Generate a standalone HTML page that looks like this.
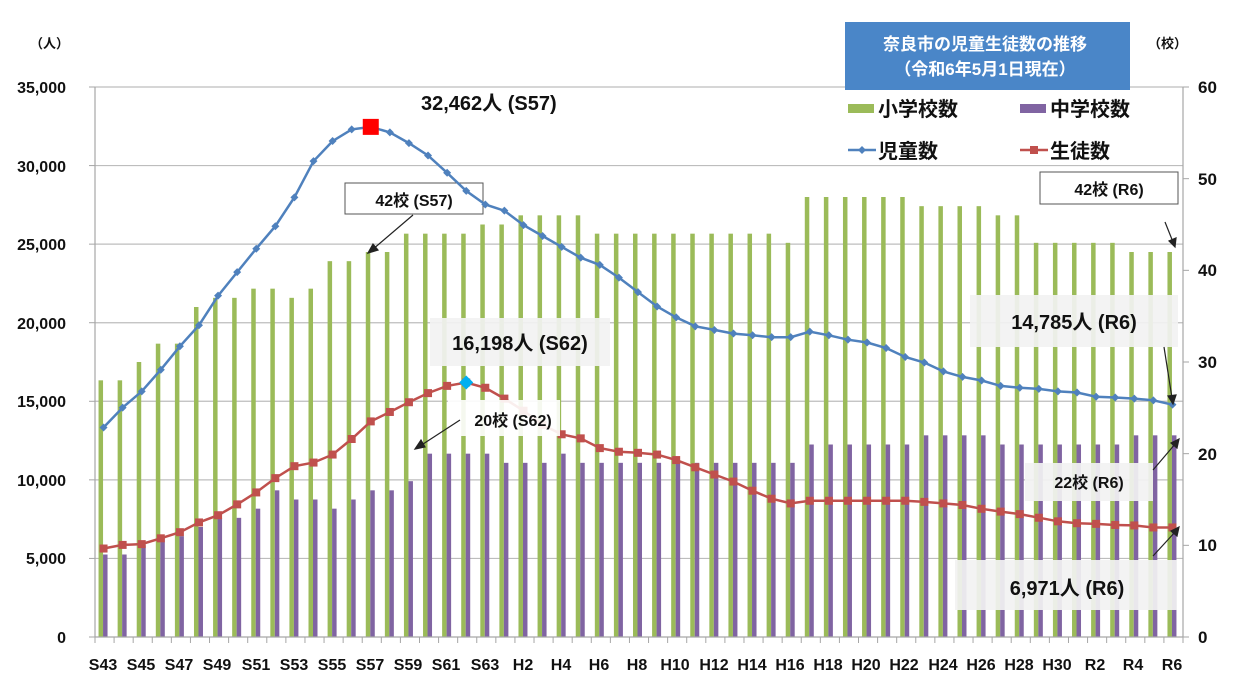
<!DOCTYPE html>
<html><head><meta charset="utf-8"><style>
html,body{margin:0;padding:0;background:#fff;}
svg{display:block;font-family:"Liberation Sans","Noto Sans CJK JP",sans-serif;font-weight:bold;}
</style></head><body>
<svg id="c" width="1238" height="691" viewBox="0 0 1238 691" xmlns="http://www.w3.org/2000/svg">
<rect width="1238" height="691" fill="#fff"/>
<g id="grid" stroke="#bdbdbd" stroke-width="1.2"></g>
<g id="bars"></g>
<rect x="345" y="183" width="138" height="31" fill="#fff" stroke="#555" stroke-width="1"/>
<text x="414" y="206" text-anchor="middle" font-size="16" fill="#111">42校 (S57)</text>
<g id="lines"></g>
<line x1="95" y1="87" x2="95" y2="637" stroke="#a6a6a6" stroke-width="1.2"/>
<line x1="1183" y1="87" x2="1183" y2="637" stroke="#a6a6a6" stroke-width="1.2"/>
<line x1="95" y1="637" x2="1183" y2="637" stroke="#a6a6a6" stroke-width="1.2"/>
<g id="ticks" stroke="#a6a6a6" stroke-width="1"></g>

<!-- annotation boxes -->
<rect x="430" y="318" width="180" height="48" fill="#f2f2f2" opacity="0.92"/>
<rect x="448" y="400" width="112" height="36" fill="#fff" opacity="0.9"/>
<rect x="970" y="295" width="208" height="52" fill="#f2f2f2" opacity="0.92"/>
<rect x="1025" y="463" width="128" height="38" fill="#f2f2f2" opacity="0.92"/>
<rect x="955" y="560" width="222" height="50" fill="#f2f2f2" opacity="0.92"/>
<rect x="1040" y="172" width="138" height="32" fill="#fff" stroke="#555" stroke-width="1"/>

<g id="marks"></g>

<!-- arrows -->
<g stroke="#222" stroke-width="1.2" fill="#222">
<line x1="413" y1="215" x2="372" y2="250"/><polygon points="368,253 378,250 373,244"/>
<line x1="460" y1="420" x2="420" y2="446"/><polygon points="415,449 425,447 421,440"/>
<line x1="1165" y1="222" x2="1173" y2="242"/><polygon points="1175,247 1176,238 1169,241"/>
<line x1="1164" y1="347" x2="1172" y2="398"/><polygon points="1173,404 1176,395 1168,396"/>
<line x1="1153" y1="470" x2="1176" y2="443"/><polygon points="1179,439 1171,443 1177,448"/>
<line x1="1153" y1="556" x2="1176" y2="531"/><polygon points="1179,527 1171,531 1177,536"/>
</g>

<!-- annotation text -->
<g fill="#111" font-size="19">
<text x="421" y="110" font-size="20">32,462人 (S57)</text>
<text x="520" y="350" text-anchor="middle" font-size="20">16,198人 (S62)</text>
<text x="513" y="426" text-anchor="middle" font-size="16">20校 (S62)</text>
<text x="1074" y="329" text-anchor="middle" font-size="20">14,785人 (R6)</text>
<text x="1089" y="488" text-anchor="middle" font-size="16">22校 (R6)</text>
<text x="1067" y="595" text-anchor="middle" font-size="20">6,971人 (R6)</text>
<text x="1109" y="195" text-anchor="middle" font-size="16">42校 (R6)</text>
</g>

<!-- legend -->
<rect x="845" y="88" width="332" height="76" fill="#fff"/>
<rect x="845" y="22" width="285" height="68" fill="#4a86c8"/>
<text x="985" y="50" text-anchor="middle" fill="#fff" font-size="17">奈良市の児童生徒数の推移</text>
<text x="985" y="75" text-anchor="middle" fill="#fff" font-size="17">（令和6年5月1日現在）</text>
<rect x="848" y="104" width="26" height="9" fill="#9bbb59"/>
<text x="878" y="116" font-size="20" fill="#111">小学校数</text>
<rect x="1020" y="104" width="26" height="9" fill="#8064a2"/>
<text x="1050" y="116" font-size="20" fill="#111">中学校数</text>
<line x1="848" y1="150" x2="876" y2="150" stroke="#4f81bd" stroke-width="2.5"/>
<polygon points="862,146 866,150 862,154 858,150" fill="#4f81bd"/>
<text x="878" y="158" font-size="20" fill="#111">児童数</text>
<line x1="1020" y1="150" x2="1048" y2="150" stroke="#c0504d" stroke-width="2.5"/>
<rect x="1030" y="146" width="8" height="8" fill="#c0504d"/>
<text x="1050" y="158" font-size="20" fill="#111">生徒数</text>

<!-- axis labels -->
<g fill="#111" font-size="16" text-anchor="end">
<text x="66" y="93">35,000</text>
<text x="66" y="172">30,000</text>
<text x="66" y="250">25,000</text>
<text x="66" y="329">20,000</text>
<text x="66" y="407">15,000</text>
<text x="66" y="486">10,000</text>
<text x="66" y="564">5,000</text>
<text x="66" y="643">0</text>
</g>
<g fill="#111" font-size="17">
<text x="1198" y="93">60</text>
<text x="1198" y="185">50</text>
<text x="1198" y="276">40</text>
<text x="1198" y="368">30</text>
<text x="1198" y="460">20</text>
<text x="1198" y="551">10</text>
<text x="1198" y="643">0</text>
</g>
<text x="30" y="48" font-size="13" fill="#111">（人）</text>
<text x="1148" y="48" font-size="13" fill="#111">（校）</text>
<g id="xl" fill="#111" font-size="16" text-anchor="middle">
<text x="103" y="670">S43</text><text x="141" y="670">S45</text><text x="179" y="670">S47</text><text x="217" y="670">S49</text><text x="256" y="670">S51</text><text x="294" y="670">S53</text><text x="332" y="670">S55</text><text x="370" y="670">S57</text><text x="408" y="670">S59</text><text x="446" y="670">S61</text><text x="485" y="670">S63</text><text x="523" y="670">H2</text><text x="561" y="670">H4</text><text x="599" y="670">H6</text><text x="637" y="670">H8</text><text x="675" y="670">H10</text><text x="714" y="670">H12</text><text x="752" y="670">H14</text><text x="790" y="670">H16</text><text x="828" y="670">H18</text><text x="866" y="670">H20</text><text x="904" y="670">H22</text><text x="943" y="670">H24</text><text x="981" y="670">H26</text><text x="1019" y="670">H28</text><text x="1057" y="670">H30</text><text x="1095" y="670">R2</text><text x="1133" y="670">R4</text><text x="1172" y="670">R6</text>
</g>
</svg>
<script>
(function(){
var NS="http://www.w3.org/2000/svg";
function el(p,t,a){var e=document.createElementNS(NS,t);for(var k in a)e.setAttribute(k,a[k]);p.appendChild(e);return e;}
var g=document.getElementById('grid');
for(var v=5000;v<=35000;v+=5000){var y=637-v/35000*550;el(g,'line',{x1:95,x2:1183,y1:y,y2:y});}
var tk=document.getElementById('ticks');
for(var v=0;v<=35000;v+=5000){var y=637-v/35000*550;el(tk,'line',{x1:89,x2:95,y1:y,y2:y});}
for(var s=0;s<=60;s+=10){var y=637-s/60*550;el(tk,'line',{x1:1183,x2:1189,y1:y,y2:y});}
var W=1088/57;
for(var i=0;i<=57;i++){var x=95+W*i;el(tk,'line',{x1:x,x2:x,y1:637,y2:643});}
var el_=[28,28,30,32,32,36,37,37,38,38,37,38,41,41,42,42,44,44,44,44,45,45,46,46,46,46,44,44,44,44,44,44,44,44,44,44,43,48,48,48,48,48,48,47,47,47,47,46,46,43,43,43,43,43,42,42,42];
var jh=[9,9,10,11,11,12,13,13,14,16,15,15,14,15,16,16,17,20,20,20,20,19,19,19,20,19,19,19,19,19,19,19,19,19,19,19,19,21,21,21,21,21,21,22,22,22,22,21,21,21,21,21,21,21,22,22,22];
var bl=[13333,14600,15630,17010,18500,19840,21720,23220,24710,26140,27980,30280,31560,32300,32462,32110,31430,30640,29540,28390,27520,27130,26210,25520,24830,24140,23680,22870,21950,21030,20340,19770,19540,19310,19200,19080,19080,19430,19200,18920,18740,18390,17820,17470,16900,16550,16320,15980,15860,15790,15630,15560,15290,15240,15170,15060,14785];
var rd=[5630,5860,5910,6280,6670,7290,7750,8440,9200,10110,10870,11100,11610,12600,13720,14320,14940,15520,15980,16198,15860,15170,14400,13500,12900,12640,12020,11790,11720,11610,11260,10800,10340,9890,9310,8800,8500,8670,8670,8670,8670,8670,8670,8600,8500,8400,8160,7980,7820,7590,7360,7240,7200,7130,7100,6970,6971];
var b=document.getElementById('bars');
function cx(i){return 95+W*(i+0.5)-1;}
for(var i=0;i<57;i++){var x=cx(i);
 var h1=el_[i]*550/60, h2=jh[i]*550/60;
 el(b,'rect',{x:x-5,y:637-h1,width:4.5,height:h1,fill:'#9bbb59'});
 el(b,'rect',{x:x-0.5,y:637-h2,width:4.5,height:h2,fill:'#8064a2'});}
var L=document.getElementById('lines'),M=document.getElementById('marks');
function Y(v){return 637-v/35000*550;}
function pts(a){return a.map(function(v,i){return cx(i).toFixed(1)+','+Y(v).toFixed(1)}).join(' ');}
el(L,'polyline',{points:pts(bl),fill:'none',stroke:'#4f81bd','stroke-width':2.5});
el(L,'polyline',{points:pts(rd),fill:'none',stroke:'#c0504d','stroke-width':2.5});
for(var i=0;i<57;i++){var x=cx(i),y=Y(bl[i]);
 el(L,'polygon',{points:(x)+','+(y-4)+' '+(x+4)+','+y+' '+x+','+(y+4)+' '+(x-4)+','+y,fill:'#4f81bd'});
 var y2=Y(rd[i]);el(L,'rect',{x:x-4,y:y2-4,width:8,height:8,fill:'#c0504d'});}
var px=cx(14),py=Y(32462);el(M,'rect',{x:px-8,y:py-8,width:16,height:16,fill:'#ff0000'});
var qx=cx(19),qy=Y(16198);el(M,'polygon',{points:qx+','+(qy-7)+' '+(qx+7)+','+qy+' '+qx+','+(qy+7)+' '+(qx-7)+','+qy,fill:'#00b0f0'});
})();
</script>
</body></html>
